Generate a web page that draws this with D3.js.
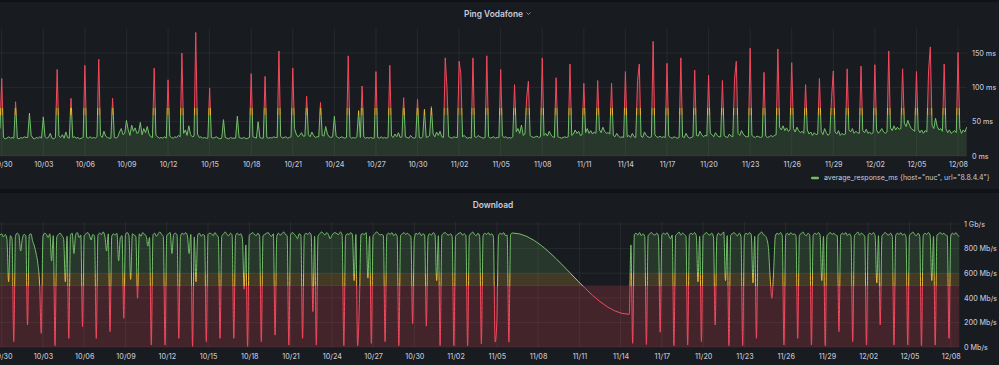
<!DOCTYPE html>
<html><head><meta charset="utf-8">
<script src="https://cdn.jsdelivr.net/npm/d3@7"></script>
<style>
html,body{margin:0;padding:0;background:#111217;overflow:hidden}
svg{display:block}
text{font-family:Inter,"Noto Sans",sans-serif}
</style>
</head><body>
<svg id="c" width="999" height="365"></svg>
<script>
// ---------------- DATA ----------------
const panelTitles = ["Ping Vodafone", "Download"];
const legendLabels = ['average_response_ms {host="nuc", url="8.8.4.4"}'];
const xTickLabels = ["09/30","10/03","10/06","10/09","10/12","10/15","10/18","10/21","10/24","10/27","10/30",
  "11/02","11/05","11/08","11/11","11/14","11/17","11/20","11/23","11/26","11/29","12/02","12/05","12/08"];
const year = 2023;
const stepHours = 3;

// ping (ms), 3-hourly samples; each row = one day starting 21:00
const pingStart = "2023-09-29T21:00:00Z";
const pingMs = [
 [40,113,27,25,26,28,26,27],[26,79,26,25,27,26,28,27],[27,62,30,26,25,27,26,28],[26,57,28,26,27,33,26,25],
 [27,126,29,27,31,26,35,27],[26,84,27,28,26,27,25,26],[27,132,27,26,28,26,27,26],[28,141,30,27,36,29,27,26],
 [26,84,27,26,28,35,40,31],[33,52,38,30,45,36,41,33],[34,49,31,40,34,43,32,28],[27,128,30,28,26,27,26,28],
 [26,111,29,27,26,28,27,30],[28,150,33,38,30,44,31,28],[29,180,32,27,28,26,27,26],[26,99,27,26,27,28,26,25],
 [26,53,27,26,25,27,26,26],[26,58,27,26,26,27,25,26],[27,120,28,27,26,50,27,26],[26,116,27,26,27,26,28,27],
 [27,153,29,26,27,28,26,27],[28,128,40,32,28,30,34,29],[29,87,31,28,35,30,27,28],[28,78,30,29,43,32,28,27],
 [28,58,29,27,26,28,27,26],[27,146,28,26,27,26,28,66],[27,102,28,26,27,26,27,26],[26,123,27,26,28,26,27,26],
 [27,132,29,27,32,28,34,27],[28,85,28,27,26,30,27,26],[27,83,27,26,28,68,27,28],[30,72,32,28,35,30,36,28],
 [27,143,100,28,27,26,28,27],[27,138,120,28,30,27,26,27],[26,143,28,27,30,28,27,26],[27,146,28,26,27,28,26,27],
 [27,126,29,27,28,26,27,26],[28,104,35,40,33,45,30,32],[85,109,30,28,27,28,29,27],[28,143,30,33,29,36,31,28],
 [27,114,28,27,26,27,28,27],[28,134,30,32,38,33,36,30],[31,106,34,40,33,37,32,35],[33,110,38,34,42,36,33,34],
 [32,106,30,28,33,29,27,28],[27,123,28,30,27,33,28,27],[110,134,29,27,35,30,28,27],[28,167,31,28,27,29,27,28],
 [27,135,29,27,26,28,27,26],[27,143,28,27,33,28,26,27],[28,125,30,29,36,31,28,30],[29,118,33,31,28,34,30,28],
 [28,110,30,28,27,32,29,28],[112,138,33,30,37,32,29,28],[28,157,30,28,27,29,28,27],[28,122,29,27,28,30,28,30],
 [31,156,42,38,44,37,41,36],[38,136,40,35,42,37,34,36],[33,104,38,32,35,30,34,31],[32,113,36,31,40,34,30,33],
 [85,124,35,32,37,30,33,31],[32,127,38,35,40,33,36,34],[33,131,37,34,39,33,35,32],[34,133,38,33,36,40,35,33],
 [35,153,41,37,44,38,42,39],[40,127,48,43,52,45,40,38],[36,123,39,34,38,33,37,35],[125,159,45,40,55,43,38,40],
 [36,134,40,34,38,33,35,37],[34,151,40,33,38,35,42]
];
const pingTicks = [0, 50, 100, 150];
const pingTickLabels = ["0 ms", "50 ms", "100 ms", "150 ms"];
const pingThresholds = [60, 70];

// download (Mb/s), 3-hourly samples; gap between the two parts
const downloadStartA = "2023-09-29T21:00:00Z";
const downloadA = [
 [910,920,895,915,880,530,905,880],[43,900,925,910,780,880,915,905],[179,910,920,860,820,760,680,520],
 [111,900,925,915,890,920,700,905],[10,890,915,925,905,880,530,900],[70,910,925,760,915,930,890,910],
 [165,905,920,930,910,870,915,900],[70,910,925,915,935,900,780,920],[125,900,920,910,925,700,890,905],
 [233,915,930,905,550,920,910,900],[396,920,900,930,915,905,820,890],[16,910,925,900,920,935,915,900],
 [16,905,920,930,760,915,925,910],[70,900,925,915,930,905,760,915],[5,895,530,910,925,900,915,905],
 [43,915,925,920,905,930,910,895],[70,900,920,935,915,905,925,910],[70,905,925,910,920,880,470,830],
 [5,910,920,930,915,905,925,900],[43,905,915,925,930,910,900,920],[97,900,925,910,920,935,915,905],
 [16,910,930,920,905,880,920,910],[70,905,925,915,930,910,288,900],[16,900,920,935,925,910,930,915],
 [880,905,925,930,920,915,935,910],[10,900,920,915,930,910,540,915],[10,320,915,920,915,930,560,900],
 [30,900,920,935,925,910,915,905],[43,910,925,915,930,905,920,900],[10,905,920,930,915,925,910,900],
 [190,880,925,915,930,905,920,910],[170,900,920,910,930,915,540,905],[10,905,925,930,915,910,920,900],
 [10,900,915,925,930,910,920,905],[10,910,920,935,915,905,925,900],[25,905,925,915,930,910,920,895],
 [40,200,905,925,915,930,905,910],[40,915,927]
];
const downloadStartB = "2023-11-14T15:00:00Z";
const downloadB = [
 [266,830],
 [30,915,925,910,930,905,920,900],[20,905,920,930,915,910,925,900],[120,910,925,915,930,905,880,910],
 [10,905,920,935,910,925,915,900],[16,910,925,915,930,905,530,900],[43,905,920,930,915,910,925,895],
 [180,900,925,910,920,935,540,905],[10,910,920,930,915,905,925,900],[10,905,925,915,930,910,520,900],
 [70,910,920,935,915,905,880,800],[560,396,620,900,925,915,930,905],[16,905,925,910,930,915,920,900],
 [70,910,920,935,915,905,925,910],[16,905,925,915,930,910,540,900],[10,900,920,930,915,925,910,905],
 [125,910,925,915,930,905,920,900],[43,905,920,935,910,925,915,900],[16,910,925,915,930,905,520,905],
 [180,900,920,930,915,910,925,900],[16,905,925,915,930,910,920,895],[16,910,920,935,915,905,925,900],
 [10,905,925,915,930,910,540,900],[16,910,920,930,915,925,910,905],[70,900,925,915,930,910,900]
];
const downloadTicks = [0, 200, 400, 600, 800, 1000];
const downloadTickLabels = ["0 Mb/s","200 Mb/s","400 Mb/s","600 Mb/s","800 Mb/s","1 Gb/s"];
const downloadThresholds = [500, 600];

// ---------------- DRAW ----------------
const C = { bg:"#111217", panel:"#181b1f", text:"#ccccdc", grid:"rgba(204,204,220,0.08)",
  green:"#73BF69", yellow:"#EAB839", red:"#F2495C" };
const svg = d3.select("#c");

// font sizes fitted to the reference's text widths
function fitSize(str, targetW, weight) {
  const t = svg.append("text").style("font-size", "10px").style("font-weight", weight || 400).text(str);
  const w = t.node().getComputedTextLength(); t.remove();
  return 10 * targetW / w;
}
const FS_TICK = Math.min(fitSize("150 ms", 26.5, 500), fitSize("800 Mb/s", 33, 500));
const FS_LEG = fitSize(legendLabels[0], 166);
const FS_TITLE = fitSize(panelTitles[0], 59, 600);

const parse = d3.utcParse("%Y-%m-%dT%H:%M:%SZ");
const HOUR = 3600e3;
function series(start, rows) {
  const t0 = parse(start);
  return rows.flat().map((v, i) => ({ t: new Date(+t0 + i * stepHours * HOUR), v }));
}
const pingData = series(pingStart, pingMs);
const dlData = series(downloadStartA, downloadA).concat(series(downloadStartB, downloadB));
const tStart = parse(pingStart), tEnd = pingData[pingData.length - 1].t;
const tickDates = xTickLabels.map(s => { const [m, d] = s.split("/").map(Number); return new Date(Date.UTC(year, m - 1, d)); });

const defs = svg.append("defs");
svg.append("rect").attr("width", 999).attr("height", 365).attr("fill", C.bg);
svg.append("rect").attr("x", 0).attr("y", 2).attr("width", 999).attr("height", 187).attr("fill", C.panel);
svg.append("rect").attr("x", 0).attr("y", 193).attr("width", 999).attr("height", 172).attr("fill", C.panel);

function gradient(id, y, vmax, stops) {
  const g = defs.append("linearGradient").attr("id", id).attr("gradientUnits", "userSpaceOnUse")
    .attr("x1", 0).attr("x2", 0).attr("y1", y(0)).attr("y2", y(vmax));
  stops.forEach(([a, b, col, op]) => {
    g.append("stop").attr("offset", a / vmax).attr("stop-color", col).attr("stop-opacity", op);
    g.append("stop").attr("offset", Math.min(1, b / vmax)).attr("stop-color", col).attr("stop-opacity", op);
  });
}

function panel(cfg) {
  const { data, x, y, vmax, ticks, tickLabels, yLabelX, xLabelPad, curve, id, lineStops, fillStops, title, titleY } = cfg;
  const [x0, x1] = x.range(), [yb, yt] = y.range();
  const g = svg.append("g");
  g.append("g").selectAll("line").data(ticks).join("line")
    .attr("x1", x0).attr("x2", x1).attr("y1", d => y(d)).attr("y2", d => y(d))
    .attr("stroke", C.grid);
  g.append("g").selectAll("line").data(tickDates).join("line")
    .attr("x1", d => x(d)).attr("x2", d => x(d)).attr("y1", yt - 2).attr("y2", yb)
    .attr("stroke", C.grid);
  if (cfg.band) {
    g.append("rect").attr("x", x0).attr("width", x1 - x0)
      .attr("y", y(cfg.band[1])).attr("height", y(cfg.band[0]) - y(cfg.band[1]))
      .attr("fill", cfg.band[2]).attr("fill-opacity", cfg.band[3]);
  }
  gradient(id + "L", y, vmax, lineStops);
  gradient(id + "F", y, vmax, fillStops);
  const area = d3.area().x(d => x(d.t)).y0(y(0)).y1(d => y(d.v)).curve(curve);
  const line = d3.line().x(d => x(d.t)).y(d => y(d.v)).curve(curve);
  g.append("path").datum(data).attr("d", area).attr("fill", `url(#${id}F)`);
  g.append("path").datum(data).attr("d", line).attr("fill", "none")
    .attr("stroke", `url(#${id}L)`).attr("stroke-width", 1).attr("stroke-linejoin", "round");
  const xa = g.append("g").attr("transform", `translate(0,${yb})`)
    .call(d3.axisBottom(x).tickValues(tickDates).tickFormat((d, i) => xTickLabels[i]).tickSize(0).tickPadding(xLabelPad));
  const ya = g.append("g").attr("transform", `translate(${yLabelX},0)`)
    .call(d3.axisRight(y).tickValues(ticks).tickFormat((d, i) => tickLabels[i]).tickSize(0).tickPadding(0));
  [xa, ya].forEach(a => {
    a.select(".domain").remove();
    a.selectAll("text").attr("fill", C.text).attr("fill-opacity", 0.95)
      .style("font-size", FS_TICK + "px").style("font-weight", 500).style("font-family", "Inter,'Noto Sans',sans-serif");
  });
  svg.append("text").attr("x", cfg.titleX).attr("y", titleY).attr("text-anchor", "middle")
    .attr("fill", C.text).style("font-size", FS_TITLE + "px").style("font-weight", 600).text(title);
}

const xTop = d3.scaleUtc([tStart, tEnd], [0, 966.7]);
const yTop = d3.scaleLinear([0, 183.6], [156, 30]);
panel({ id: "ping", data: pingData, x: xTop, y: yTop, vmax: 183.6, ticks: pingTicks, tickLabels: pingTickLabels,
  yLabelX: 972, xLabelPad: 6, curve: d3.curveLinear, title: panelTitles[0], titleX: 493.5, titleY: 16.5,
  lineStops: [[0, pingThresholds[0], C.green, 1], [pingThresholds[0], pingThresholds[1], C.yellow, 1], [pingThresholds[1], 183.6, C.red, 1]],
  fillStops: [[0, pingThresholds[0], C.green, 0.17], [pingThresholds[0], pingThresholds[1], C.yellow, 0.2], [pingThresholds[1], 183.6, C.red, 0.2]] });
svg.append("path").attr("d", "M526.5,12.5 L528.5,14.5 L530.5,12.5").attr("fill", "none")
  .attr("stroke", C.text).attr("stroke-opacity", 0.7).attr("stroke-width", 0.9);

const lg = svg.append("g").attr("transform", "translate(811,178)");
lg.append("rect").attr("x", 0).attr("y", -1.3).attr("width", 8).attr("height", 2.6).attr("rx", 1.3).attr("fill", C.green);
lg.append("text").attr("x", 13).attr("y", 0).attr("dy", "0.35em").attr("fill", C.text)
  .style("font-size", FS_LEG + "px").text(legendLabels[0]);

const xBot = d3.scaleUtc([tStart, tEnd], [0, 959.3]);
const yBot = d3.scaleLinear([0, 1000], [347, 224]);
panel({ id: "dl", data: dlData, x: xBot, y: yBot, vmax: 1000, ticks: downloadTicks, tickLabels: downloadTickLabels,
  yLabelX: 964, xLabelPad: 6.5, curve: d3.curveMonotoneX, title: panelTitles[1], titleX: 493, titleY: 207.5,
  band: [0, downloadThresholds[0], C.red, 0.2],
  lineStops: [[0, downloadThresholds[0], C.red, 1], [downloadThresholds[0], downloadThresholds[1], C.yellow, 1], [downloadThresholds[1], 1000, C.green, 1]],
  fillStops: [[0, downloadThresholds[0], C.red, 0], [downloadThresholds[0], downloadThresholds[1], C.yellow, 0.2], [downloadThresholds[1], 1000, C.green, 0.17]] });
</script>
</body></html>
